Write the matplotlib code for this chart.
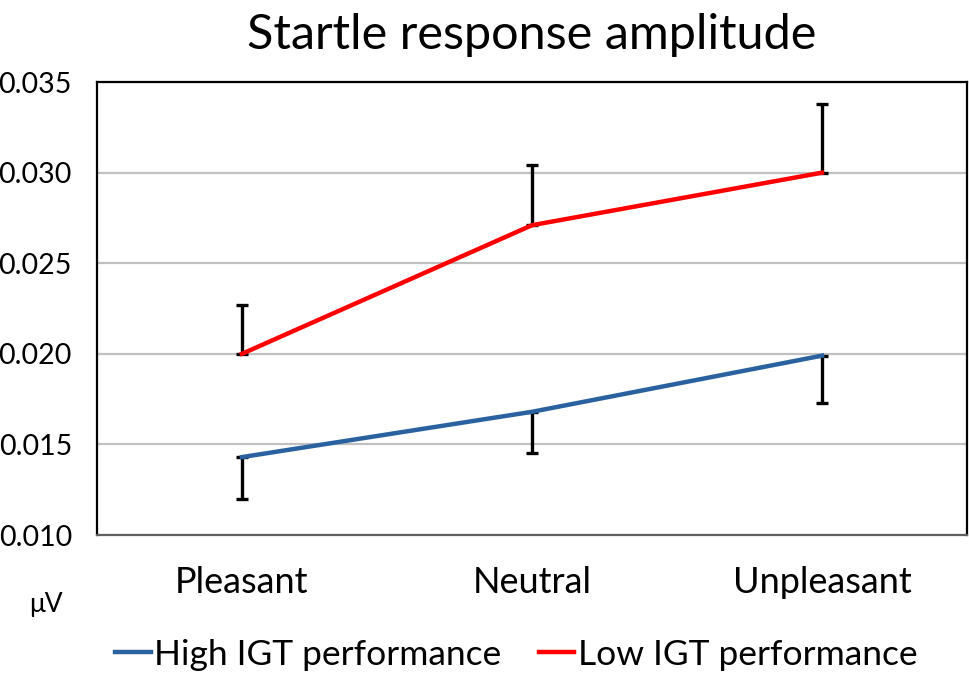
import matplotlib.pyplot as plt
import numpy as np

plt.rcParams['font.family'] = ['Lato', 'DejaVu Sans']

categories = ["Pleasant", "Neutral", "Unpleasant"]
high_vals = [0.0143, 0.0168, 0.0199]
high_err = [0.0023, 0.0023, 0.0026]   # drawn downward
low_vals = [0.0200, 0.0271, 0.0300]
low_err = [0.0027, 0.0033, 0.0038]    # drawn upward
yticks = [0.010, 0.015, 0.020, 0.025, 0.030, 0.035]

blue = "#2A62A0"
red = "#FF0000"

fig = plt.figure(figsize=(9.69, 6.75), dpi=100)
ax = fig.add_axes([0.100, 0.2074, 0.898, 0.671])

x = np.arange(len(categories))
ax.plot(x, high_vals, color=blue, lw=3.2, label="High IGT performance", zorder=3)
ax.plot(x, low_vals, color=red, lw=3.2, label="Low IGT performance", zorder=3)
ax.errorbar(x, high_vals, yerr=[high_err, [0] * 3], fmt='none', ecolor='black',
            elinewidth=2.4, capsize=4, capthick=2.4, zorder=2)
ax.errorbar(x, low_vals, yerr=[[0] * 3, low_err], fmt='none', ecolor='black',
            elinewidth=2.4, capsize=4, capthick=2.4, zorder=2)

ax.set_xlim(-0.5, 2.5)
ax.set_ylim(0.010, 0.035)
ax.set_yticks(yticks)
ax.set_yticklabels([f"{v:.3f}" for v in yticks])
ax.set_xticks(x)
ax.set_xticklabels(categories)
ax.tick_params(axis='y', length=0, labelsize=20.5, pad=18)
ax.tick_params(axis='x', length=0, labelsize=26, pad=22)
ax.grid(axis='y', color='#C0C0C0', lw=1.6)
ax.set_axisbelow(True)
for s in ['left', 'top', 'right']:
    ax.spines[s].set_linewidth(1.6)
    ax.spines[s].set_color('black')
ax.spines['bottom'].set_linewidth(1.6)
ax.spines['bottom'].set_color('#606060')

ax.set_title("Startle response amplitude", fontsize=35, pad=24)
fig.text(0.047, 0.105, "μV", fontsize=19, ha='center', va='center')

fig.legend(loc='center', bbox_to_anchor=(0.533, 0.03), ncol=2, frameon=False,
           fontsize=25.5, handlelength=1.0, handletextpad=0.1, columnspacing=1.05)

plt.savefig("out.png", dpi=100)
